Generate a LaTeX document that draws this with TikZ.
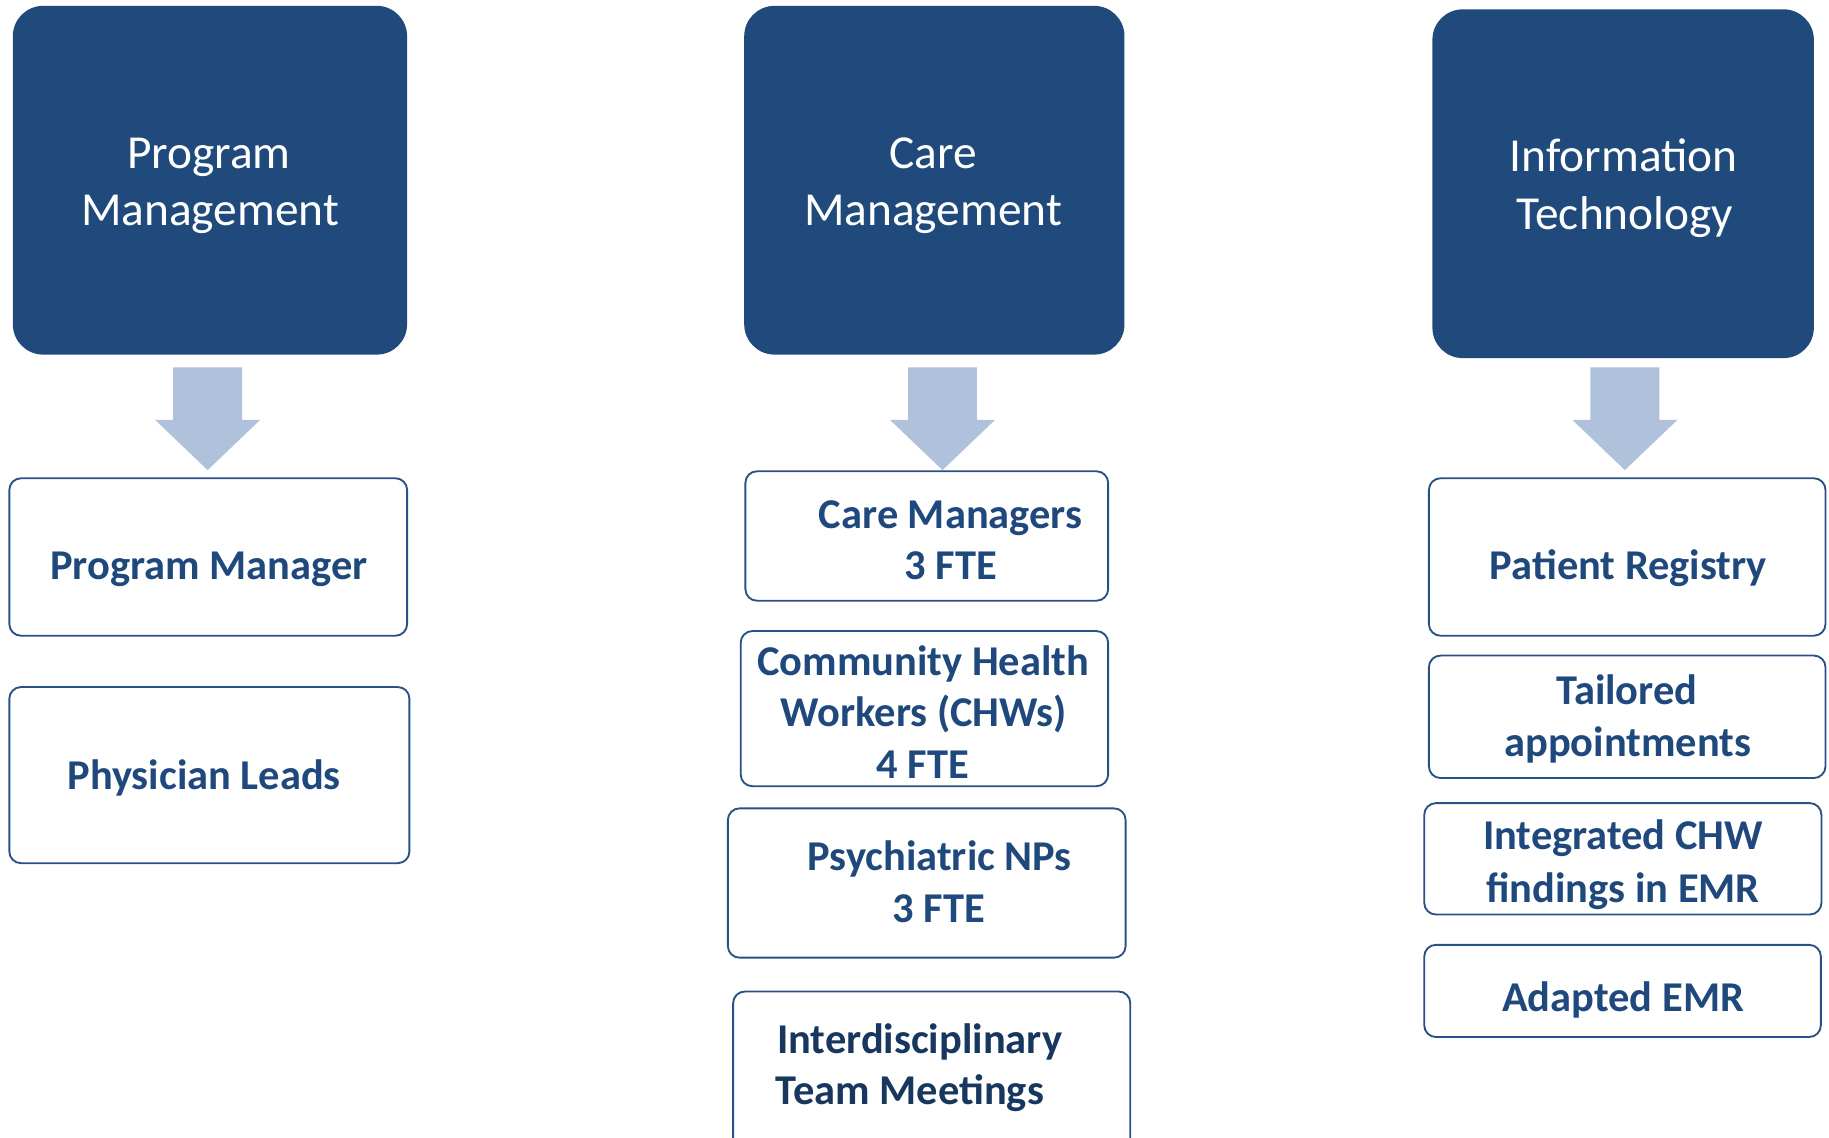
\documentclass[tikz,border=0pt]{standalone}
\usepackage{fontspec}
\setmainfont{Carlito}
\definecolor{topfill}{HTML}{214A7C}
\definecolor{arrowc}{HTML}{B0C1DC}
\definecolor{boxline}{HTML}{2A5185}
\definecolor{boxtext}{HTML}{1F497D}
\definecolor{darktext}{HTML}{17375E}
\tikzset{
  topbox/.style={fill=topfill, draw=none, rounded corners=26pt, inner sep=0pt},
  childbox/.style={draw=boxline, line width=1.6pt, fill=white, rounded corners=10pt, inner sep=0pt},
  toptext/.style={text=white, font=\fontsize{40.6}{48}\selectfont, inner sep=0pt, anchor=base},
  ctext/.style={text=boxtext, font=\fontsize{36.4}{44}\selectfont\bfseries, inner sep=0pt, anchor=base},
  downarrow/.pic={\fill[arrowc] (-29.5,0) -- (29.5,0) -- (29.5,45) -- (45,45) -- (0,88) -- (-45,45) -- (-29.5,45) -- cycle;}
}
\begin{document}
\begin{tikzpicture}[x=1pt,y=-1pt]
\useasboundingbox (0,0) rectangle (1568,975);
\clip (0,0) rectangle (1568,975);
\fill[white] (0,0) rectangle (1568,975);
% top boxes
\node[topbox, minimum width=338pt, minimum height=299pt] (pm) at (180,154.5) {};
\node[topbox, minimum width=326pt, minimum height=299pt] (cmg) at (801,154.5) {};
\node[topbox, minimum width=327pt, minimum height=299pt] (it) at (1391.5,157.5) {};
\node[toptext] (pm1) at (179,144.5) {Program};
\node[toptext] (pm2) at (180,193) {Management};
\node[toptext] (cmg1) at (800,144.5) {Care};
\node[toptext] (cmg2) at (800,193) {Management};
\node[toptext] (it1) at (1392,147.3) {Information};
\node[toptext] (it2) at (1393,196.5) {Technology};
% arrows
\coordinate (ar1) at (178,315);
\coordinate (ar2) at (808,315);
\coordinate (ar3) at (1393,315);
\pic at (ar1) {downarrow};
\pic at (ar2) {downarrow};
\pic at (ar3) {downarrow};
% left column
\node[childbox, minimum width=341pt, minimum height=135pt] (pmgr) at (178.5,477.5) {};
\node[childbox, minimum width=343pt, minimum height=151pt] (phys) at (179.5,664.5) {};
\node[ctext] (pmgrt) at (179,497) {Program Manager};
\node[ctext] (physt) at (175,677) {Physician Leads};
% middle column
\node[childbox, minimum width=311pt, minimum height=111pt] (cman) at (794.5,459.5) {};
\node[childbox, minimum width=315pt, minimum height=133pt] (chw) at (792.5,607.5) {};
\node[childbox, minimum width=341pt, minimum height=128pt] (pnp) at (794.5,757) {};
\node[childbox, minimum width=340.5pt, minimum height=150pt] (idt) at (798.75,925) {};
\node[ctext] (cman1) at (815,453.5) {Care Managers};
\node[ctext] (cman2) at (815,497.2) {3 FTE};
\node[ctext] (chw1) at (791.5,579.5) {Community Health};
\node[ctext] (chw2) at (792,622.5) {Workers (CHWs)};
\node[ctext] (chw3) at (791,667) {4 FTE};
\node[ctext] (pnp1) at (805.6,746.5) {Psychiatric NPs};
\node[ctext] (pnp2) at (804.7,790.9) {3 FTE};
\node[ctext, anchor=base west, text=darktext] (idt1) at (666,903) {Interdisciplinary};
\node[ctext, anchor=base west, text=darktext] (idt2) at (665,946.5) {Team Meetings};
% right column
\node[childbox, minimum width=340pt, minimum height=135pt] (preg) at (1395,477.5) {};
\node[childbox, minimum width=340pt, minimum height=105pt] (tail) at (1395,614.5) {};
\node[childbox, minimum width=340.5pt, minimum height=95.5pt] (integ) at (1391.25,736.25) {};
\node[childbox, minimum width=340pt, minimum height=79pt] (adapt) at (1391,849.5) {};
\node[ctext] (pregt) at (1396,497.2) {Patient Registry};
\node[ctext] (tail1) at (1394.7,603.9) {Tailored};
\node[ctext] (tail2) at (1395.5,648.9) {appointments};
\node[ctext] (integ1) at (1391.5,728.5) {Integrated CHW};
\node[ctext] (integ2) at (1391.4,773.3) {findings in EMR};
\node[ctext] (adaptt) at (1391.5,867.1) {Adapted EMR};
\end{tikzpicture}
\end{document}
